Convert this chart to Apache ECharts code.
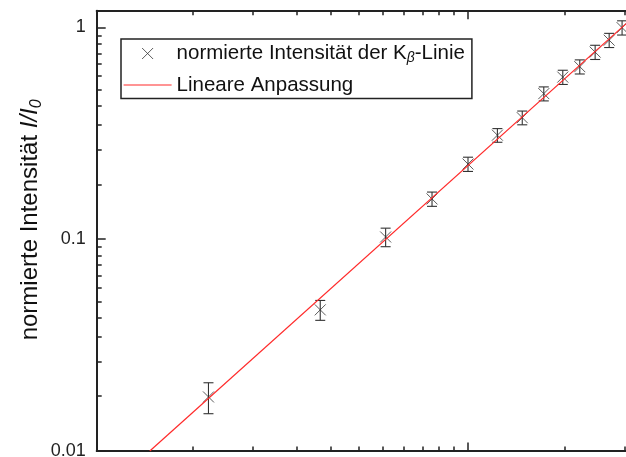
<!DOCTYPE html>
<html><head><meta charset="utf-8">
<script src="https://cdn.jsdelivr.net/npm/echarts@6/dist/echarts.min.js"></script>
<style>html,body{margin:0;padding:0;background:#fff}#c{width:626px;height:457px}</style>
</head><body><div id="c"></div>
<script>
// ---- data ----
const xValues = [2, 4, 6, 8, 10, 12, 14, 16, 18, 20, 22, 24, 26];
const yValues = [0.018, 0.0464, 0.1025, 0.155, 0.2265, 0.310, 0.375, 0.487, 0.583, 0.653, 0.765, 0.871, 0.998];
const yErrors = [0.003, 0.005, 0.0103, 0.012, 0.0175, 0.023, 0.028, 0.037, 0.045, 0.050, 0.059, 0.067, 0.077];
const fitX = [1.39, 29];
const fitY = [0.01, 1.19];
const xMajorTicks = [1, 10, 100];
const yMajorTicks = [0.01, 0.1, 1];
const yTickLabels = ['0.01', '0.1', '1'];
const minorFactors = [1.818, 2.636, 3.455, 4.273, 5.091, 5.909, 6.727, 7.545, 8.364, 9.182];
const seriesNames = ['normierte Intensität der Kβ-Linie', 'Lineare Anpassung'];
const yAxisTitle = ['normierte Intensität ', 'I/I', '0'];

// ---- helpers ----
const FONT = '"Liberation Sans", Arial, sans-serif';
const AX = '#222';
const lg = Math.log10;
function minorLog(majors) {
  const out = [];
  majors.forEach(d => minorFactors.forEach(f => out.push(lg(d * f))));
  return out;
}
const xMin = xMajorTicks[0], xMax = xMajorTicks[2];
const yMin = yMajorTicks[0], yMax = 1.2;

function tickAxis(base, pos, custom, len, extra) {
  return Object.assign({
    type: 'value', position: pos, min: base[0], max: base[1],
    axisLine: { show: false, onZero: false },
    axisTick: { show: true, inside: true, length: len, customValues: custom, lineStyle: { color: AX, width: 1.5 } },
    axisLabel: { show: false }, splitLine: { show: false }
  }, extra || {});
}
const xr = [lg(xMin), lg(xMax)];
const yr = [lg(yMin), lg(yMax)];

const chart = echarts.init(document.getElementById('c'), null, { renderer: 'canvas' });
chart.setOption({
  animation: false,
  grid: { left: 96.7, top: 10.7, width: 742.6, height: 440.3, containLabel: false, outerBoundsMode: 'none' },
  xAxis: [
    { type: 'log', logBase: 10, min: xMin, max: xMax, show: false },
    tickAxis(xr, 'bottom', minorLog(xMajorTicks), 4.5, { axisLine: { show: true, onZero: false, lineStyle: { color: AX, width: 2 } } }),
    tickAxis(xr, 'top', minorLog(xMajorTicks), 4.5, { axisLine: { show: true, onZero: false, lineStyle: { color: AX, width: 2 } } }),
    tickAxis(xr, 'bottom', xMajorTicks.map(lg), 8.5),
    tickAxis(xr, 'top', xMajorTicks.map(lg), 8.5)
  ],
  yAxis: [
    { type: 'log', logBase: 10, min: yMin, max: yMax, show: false },
    tickAxis(yr, 'left', minorLog(yMajorTicks), 5, {
      axisLine: { show: true, onZero: false, lineStyle: { color: AX, width: 2 } },
      name: '{n|' + yAxisTitle[0] + '}{i|' + yAxisTitle[1] + '}{s|' + yAxisTitle[2] + '}',
      nameLocation: 'middle', nameRotate: 90, nameGap: 52,
      nameTextStyle: {
        color: '#111', fontFamily: FONT, fontSize: 24, padding: [0, 0, 0, 22],
        rich: {
          n: { fontFamily: FONT, fontSize: 24, color: '#111', lineHeight: 28 },
          i: { fontFamily: FONT, fontSize: 24, fontStyle: 'italic', color: '#111', lineHeight: 28 },
          s: { fontFamily: FONT, fontSize: 16, fontStyle: 'italic', color: '#111', verticalAlign: 'bottom', lineHeight: 13 }
        }
      }
    }),
    tickAxis(yr, 'left', yMajorTicks.map(lg), 9, {
      axisLabel: {
        show: true, customValues: yMajorTicks.map(lg), margin: 11,
        color: AX, fontFamily: FONT, fontSize: 18,
        formatter: v => {
          let best = 0;
          yMajorTicks.forEach((t, i) => { if (Math.abs(lg(t) - v) < Math.abs(lg(yMajorTicks[best]) - v)) best = i; });
          return yTickLabels[best];
        }
      }
    })
  ],
  legend: {
    orient: 'vertical', left: 121, top: 39,
    padding: [4, 7, 3, 2],
    borderColor: AX, borderWidth: 1.5, borderRadius: 0,
    backgroundColor: '#fff',
    itemWidth: 48, itemHeight: 11, itemGap: 9,
    selectedMode: false,
    textStyle: {
      fontFamily: FONT, fontSize: 20.5, color: '#111',
      rich: {
        a: { fontFamily: FONT, fontSize: 20.5, color: '#111', lineHeight: 24 },
        s: { fontFamily: FONT, fontSize: 14, fontStyle: 'italic', color: '#111', verticalAlign: 'bottom', lineHeight: 10 }
      }
    },
    formatter: name => '{a|' + name.replace('β', '}{s|β}{a|') + '}',
    data: [
      { name: seriesNames[0], icon: 'path://M0,0L10,10M0,10L10,0',
        itemStyle: { color: 'transparent', borderColor: '#333', borderWidth: 1 } },
      { name: seriesNames[1], itemStyle: { opacity: 0 }, lineStyle: { color: '#ff2a2a', width: 1.2 } }
    ]
  },
  series: [
    {
      type: 'custom', xAxisIndex: 0, yAxisIndex: 0, z: 3,
      data: xValues.map((x, i) => [x, yValues[i], yErrors[i]]),
      encode: { x: 0, y: 1 },
      renderItem: (params, api) => {
        const x = api.value(0), y = api.value(1), e = api.value(2);
        const t = api.coord([x, y + e]), b = api.coord([x, y - e]);
        const hw = 5;
        const st = { stroke: '#333', lineWidth: 1.1 };
        return { type: 'group', children: [
          { type: 'line', shape: { x1: t[0], y1: t[1], x2: b[0], y2: b[1] }, style: st },
          { type: 'line', shape: { x1: t[0] - hw, y1: t[1], x2: t[0] + hw, y2: t[1] }, style: st },
          { type: 'line', shape: { x1: b[0] - hw, y1: b[1], x2: b[0] + hw, y2: b[1] }, style: st }
        ] };
      }
    },
    {
      name: seriesNames[0], type: 'scatter', xAxisIndex: 0, yAxisIndex: 0, z: 4,
      symbol: 'path://M0,0L10,10M0,10L10,0', symbolSize: 11,
      itemStyle: { color: 'transparent', borderColor: '#333', borderWidth: 1 },
      data: xValues.map((x, i) => [x, yValues[i]])
    },
    {
      name: seriesNames[1], type: 'line', xAxisIndex: 0, yAxisIndex: 0, z: 5,
      symbol: 'none', showSymbol: false, clip: true,
      lineStyle: { color: '#ff2a2a', width: 1.2 },
      itemStyle: { color: '#ff2a2a' },
      data: fitX.map((x, i) => [x, fitY[i]])
    }
  ]
});
</script></body></html>
